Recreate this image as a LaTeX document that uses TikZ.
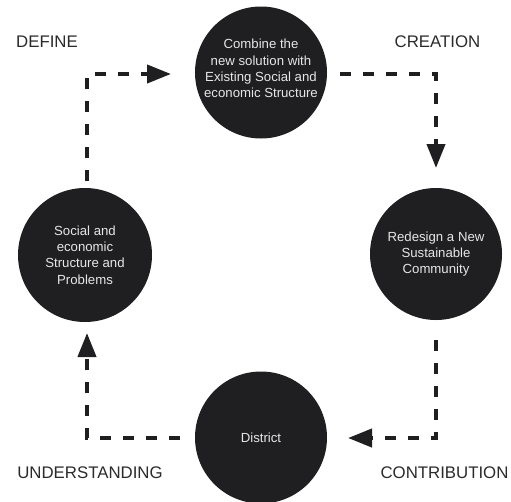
\documentclass[tikz,border=0pt]{standalone}
\usepackage{fontspec}
\setmainfont{Liberation Sans}
\usetikzlibrary{arrows.meta}
\definecolor{circfill}{HTML}{1F1F21}
\definecolor{circtext}{HTML}{E6E6E6}
\definecolor{labeltext}{HTML}{2A2A2A}
\definecolor{linecol}{HTML}{1F1F21}
\tikzset{
  stage/.style={circle, fill=circfill, draw=none, minimum size=132pt, inner sep=0pt,
    text=circtext, align=center, font=\fontsize{13.2}{16.3}\selectfont},
  phase/.style={text=labeltext, font=\fontsize{16.8}{19}\selectfont, inner sep=0pt},
  flow/.style={line width=4pt, color=linecol, dash pattern=on 11pt off 12pt,
    -{Triangle[length=24pt,width=18pt]}},
}
\begin{document}
\begin{tikzpicture}[x=1pt,y=-1pt]
\useasboundingbox (0,0) rectangle (511,501);
% circles
\node[stage] (top) at (261,72.5) {};
\node[circtext, align=center, font=\fontsize{13.2}{16.3}\selectfont] (toptext) at (261,68.5) {Combine the\\new solution with\\Existing Social and\\economic Structure};
\node[stage, minimum size=134pt] (left) at (85,255) {Social and\\economic\\Structure and\\Problems};
\node[stage] (right) at (436,254) {Redesign a New\\Sustainable\\Community};
\node[stage] (bottom) at (261,437.5) {District};
% labels
\node[phase] (define) at (47,42) {DEFINE};
\node[phase] (creation) at (437.5,42) {CREATION};
\node[phase] (understanding) at (90,473) {UNDERSTANDING};
\node[phase] (contribution) at (444.5,473) {CONTRIBUTION};
% connector coordinates
\coordinate (a1) at (87,181);
\coordinate (a2) at (87,74);
\coordinate (a3) at (171,74);
\coordinate (b1) at (340,74);
\coordinate (b2) at (436,74);
\coordinate (b3) at (436,168);
\coordinate (c1) at (436,340);
\coordinate (c2) at (436,438);
\coordinate (c3) at (348,438);
\coordinate (d1) at (180,438);
\coordinate (d2) at (87,438);
\coordinate (d3) at (87,333);
\draw[flow] (a1) -- (a2) -- (a3);
\draw[flow] (b1) -- (b2) -- (b3);
\draw[flow] (c1) -- (c2) -- (c3);
\draw[flow] (d1) -- (d2) -- (d3);
\end{tikzpicture}
\end{document}
